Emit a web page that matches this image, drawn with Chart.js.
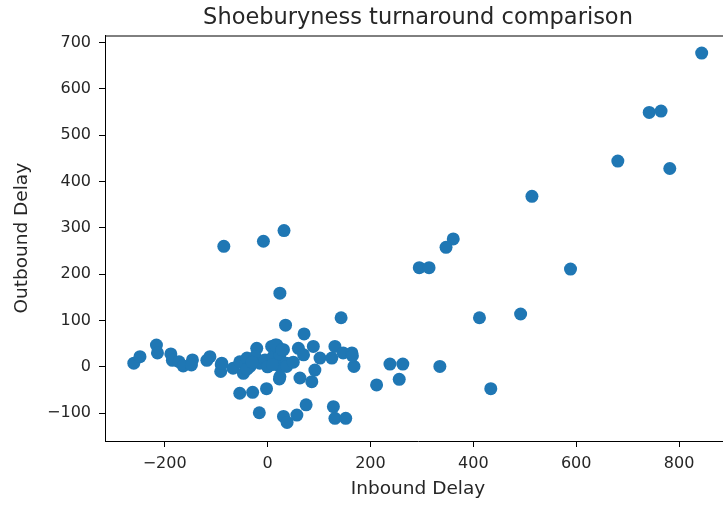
<!DOCTYPE html>
<html>
<head>
<meta charset="utf-8">
<script src="https://cdn.jsdelivr.net/npm/chart.js@4"></script>
<style>
  html, body { margin: 0; padding: 0; background: #fff; overflow: hidden; width: 723px; height: 505px; }
  canvas { display: block; }
</style>
</head>
<body>
<canvas id="c" width="731" height="505"></canvas>
<script>
const chartTitle = "Shoeburyness turnaround comparison";
const xLabel = "Inbound Delay";
const yLabel = "Outbound Delay";
const xTicks = [-200, 0, 200, 400, 600, 800];
const yTicks = [-100, 0, 100, 200, 300, 400, 500, 600, 700];

const inbound = [
  844, 742, 765, 681, 782, 514, 361, 347, 295, 314, 589, 412, 492, 238, 263, 335, 212, 256, 434, 168,
  -85, -8, 32, 24, 35, 143, 71,
  -54, -29, -2, 23, -16, 31, 38, 57, 75, 128, 131, 152,
  -260, -248, -216, -214, -188, -185, -172, -164, -146, -148, -112, -118, -90, -91,
  -89, -67, -54, -47, -40, -34, -21, -24, -15, -5, 8, 18, 11, 24, 24, 24, 37, 31, 15, 28,
  60, 70, 89, 102, 125, 131, 147, 164, 165, 37, 63, 86, 92, -40, -30, 0, 10, 50
];
const outbound = [
  677, 549, 552, 444, 428, 368, 276, 258, 214, 214, 211, 106, 114, 6, 6, 1, -39, -27, -47, 1,
  260, 271, 294, 159, 90, 106, 71,
  -57, -55, -47, -26, -99, -107, -120, -104, -82, -86, -111, -111,
  8, 22, 47, 30, 28, 14, 11, 2, 15, 4, 22, 14, 4, -10,
  8, -3, 11, -14, 19, 1, 40, 22, 8, 15, 44, 47, 22, 26, 1, -21, 8, 37, 47, 37,
  40, 26, 44, 19, 19, 44, 30, 30, 24, 1, -24, -32, -7, -5, 10, 0, 5, 10
];

const points = inbound.map((x, i) => ({ x: x, y: outbound[i] }));
const textColor = '#262626';
const fam = "'DejaVu Sans', sans-serif";
const fmt = v => String(v).replace('-', '\u2212');

const frame = {
  id: 'frame',
  afterDraw(chart) {
    const { ctx, chartArea } = chart;
    ctx.save();
    ctx.strokeStyle = '#000';
    ctx.lineWidth = 1;
    ctx.beginPath();
    ctx.moveTo(chartArea.left, chartArea.top + 0.5);
    ctx.lineTo(chartArea.right, chartArea.top + 0.5);
    ctx.lineTo(chartArea.right - 0.5, chartArea.bottom);
    ctx.stroke();
    ctx.restore();
  }
};

new Chart(document.getElementById('c'), {
  type: 'scatter',
  data: {
    datasets: [{
      data: points,
      backgroundColor: '#1f77b4',
      borderWidth: 0,
      pointRadius: 6.5,
      pointHoverRadius: 6.5
    }]
  },
  options: {
    responsive: false,
    animation: false,
    devicePixelRatio: 1,
    layout: { autoPadding: false, padding: { left: 0, right: 0, top: 0, bottom: 0 } },
    plugins: {
      legend: { display: false },
      tooltip: { enabled: false },
      title: {
        display: true,
        fullSize: false,
        text: chartTitle,
        color: textColor,
        font: { family: fam, size: 22.5, weight: 'normal' },
        padding: { top: 4.5, bottom: 4 }
      }
    },
    scales: {
      x: {
        type: 'linear',
        min: -316,
        max: 901,
        afterBuildTicks: s => { s.ticks = xTicks.map(v => ({ value: v })); },
        afterFit: s => { s.height = 64; s.paddingLeft = 0; s.paddingRight = 0; },
        grid: { drawOnChartArea: false, drawTicks: true, tickLength: 6, color: '#000' },
        border: { display: true, color: '#000', width: 1 },
        ticks: { color: textColor, font: { family: fam, size: 16 }, padding: 7, maxRotation: 0, callback: v => fmt(v) },
        title: { display: true, text: xLabel, color: textColor, font: { family: fam, size: 18.5 }, padding: { top: 0, bottom: 5 } }
      },
      y: {
        type: 'linear',
        min: -160,
        max: 715,
        afterBuildTicks: s => { s.ticks = yTicks.map(v => ({ value: v })); },
        afterFit: s => { s.width = 105; s.paddingTop = 0; s.paddingBottom = 0; },
        grid: { drawOnChartArea: false, drawTicks: true, tickLength: 6, color: '#000' },
        border: { display: true, color: '#000', width: 1 },
        ticks: { color: textColor, font: { family: fam, size: 16 }, padding: 8, callback: v => fmt(v) },
        title: { display: true, text: yLabel, color: textColor, font: { family: fam, size: 18.5 }, padding: { top: 11, bottom: 0 } }
      }
    }
  },
  plugins: [frame]
});
</script>
</body>
</html>
